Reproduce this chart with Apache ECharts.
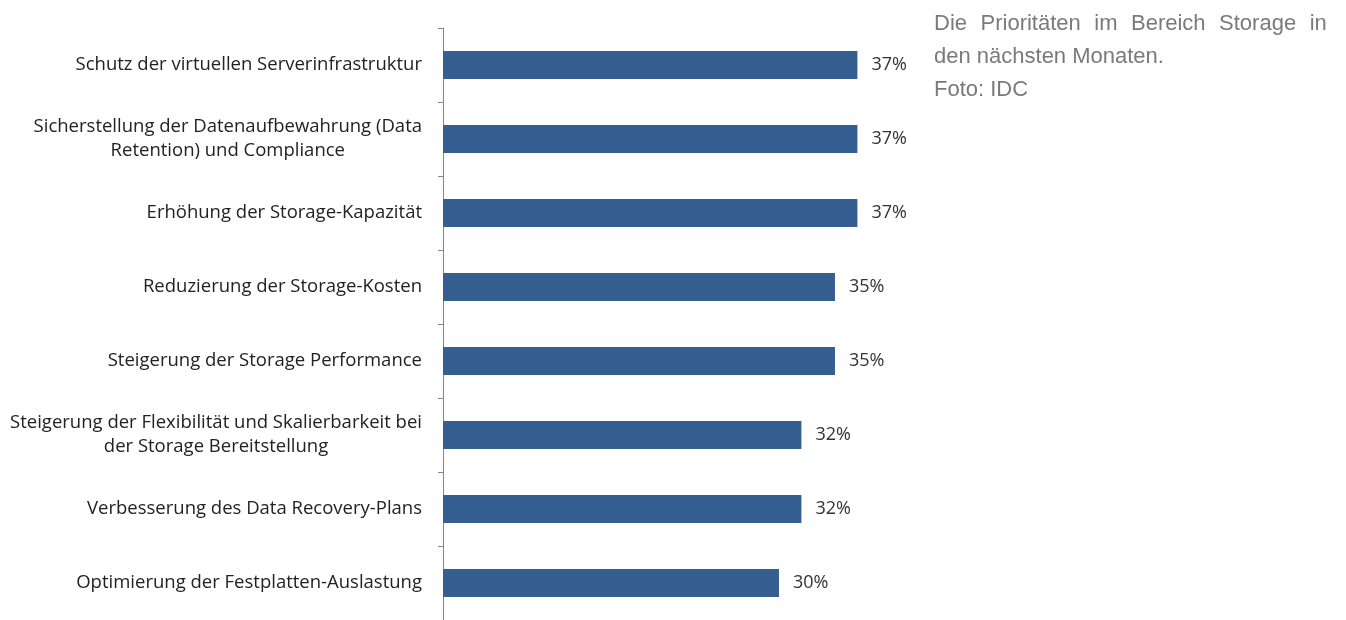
<!DOCTYPE html>
<html>
<head>
<meta charset="utf-8">
<script src="https://cdn.jsdelivr.net/npm/echarts@6/dist/echarts.min.js"></script>
<style>
  html, body { margin: 0; padding: 0; background: #ffffff; }
  #chart { width: 1346px; height: 620px; }
</style>
</head>
<body>
<div id="chart"></div>
<script>
const categories = [
  'Schutz der virtuellen Serverinfrastruktur',
  'Sicherstellung der Datenaufbewahrung (Data\nRetention) und Compliance',
  'Erhöhung der Storage-Kapazität',
  'Reduzierung der Storage-Kosten',
  'Steigerung der Storage Performance',
  'Steigerung der Flexibilität und Skalierbarkeit bei\nder Storage Bereitstellung',
  'Verbesserung des Data Recovery-Plans',
  'Optimierung der Festplatten-Auslastung'
];
const values = [37, 37, 37, 35, 35, 32, 32, 30];
const captionLine1 = ['Die', 'Prioritäten', 'im', 'Bereich', 'Storage', 'in'];
const captionLine2 = 'den nächsten Monaten.';
const captionLine3 = 'Foto: IDC';

const labelFont = "'Open Sans', 'DejaVu Sans', sans-serif";

const chart = echarts.init(document.getElementById('chart'), null, { renderer: 'canvas' });

const captionText =
  captionLine1.map(w => '{w|' + w + '}').join('{sp| }') + '\n' +
  '{w|' + captionLine2 + '}\n' +
  '{w|' + captionLine3 + '}';

chart.setOption({
  backgroundColor: '#ffffff',
  animation: false,
  title: {
    text: captionText,
    left: 934,
    top: 7,
    padding: 0,
    textStyle: {
      fontFamily: "'Liberation Sans', Arial, sans-serif",
      fontSize: 22,
      fontWeight: 'normal',
      color: '#7a7a7a',
      lineHeight: 33,
      rich: {
        w: { fontFamily: "'Liberation Sans', Arial, sans-serif", fontSize: 22, color: '#7a7a7a', lineHeight: 33 },
        sp: { fontFamily: "'Liberation Sans', Arial, sans-serif", fontSize: 22, color: '#7a7a7a', lineHeight: 33, width: 13.5 }
      }
    }
  },
  grid: {
    left: 443,
    right: 455,
    top: 28,
    bottom: -6,
    containLabel: false
  },
  xAxis: {
    type: 'value',
    min: 0,
    max: 40,
    show: false
  },
  yAxis: {
    type: 'category',
    data: categories,
    inverse: true,
    axisLine: { show: true, lineStyle: { color: '#868686', width: 1 } },
    axisTick: { show: true, length: 5, lineStyle: { color: '#868686' } },
    axisLabel: {
      margin: 21,
      align: 'right',
      formatter: v => v.split('\n').map(l => '{c|' + l + '}').join('\n'),
      rich: {
        c: { align: 'center', fontFamily: labelFont, fontSize: 18.5, color: '#222222', lineHeight: 24 }
      }
    }
  },
  series: [{
    type: 'bar',
    data: values,
    barWidth: 28,
    itemStyle: { color: '#365f91' },
    label: {
      show: true,
      position: 'right',
      distance: 14,
      formatter: '{c}%',
      fontFamily: labelFont,
      fontSize: 18,
      color: '#333333'
    }
  }]
});
</script>
</body>
</html>
